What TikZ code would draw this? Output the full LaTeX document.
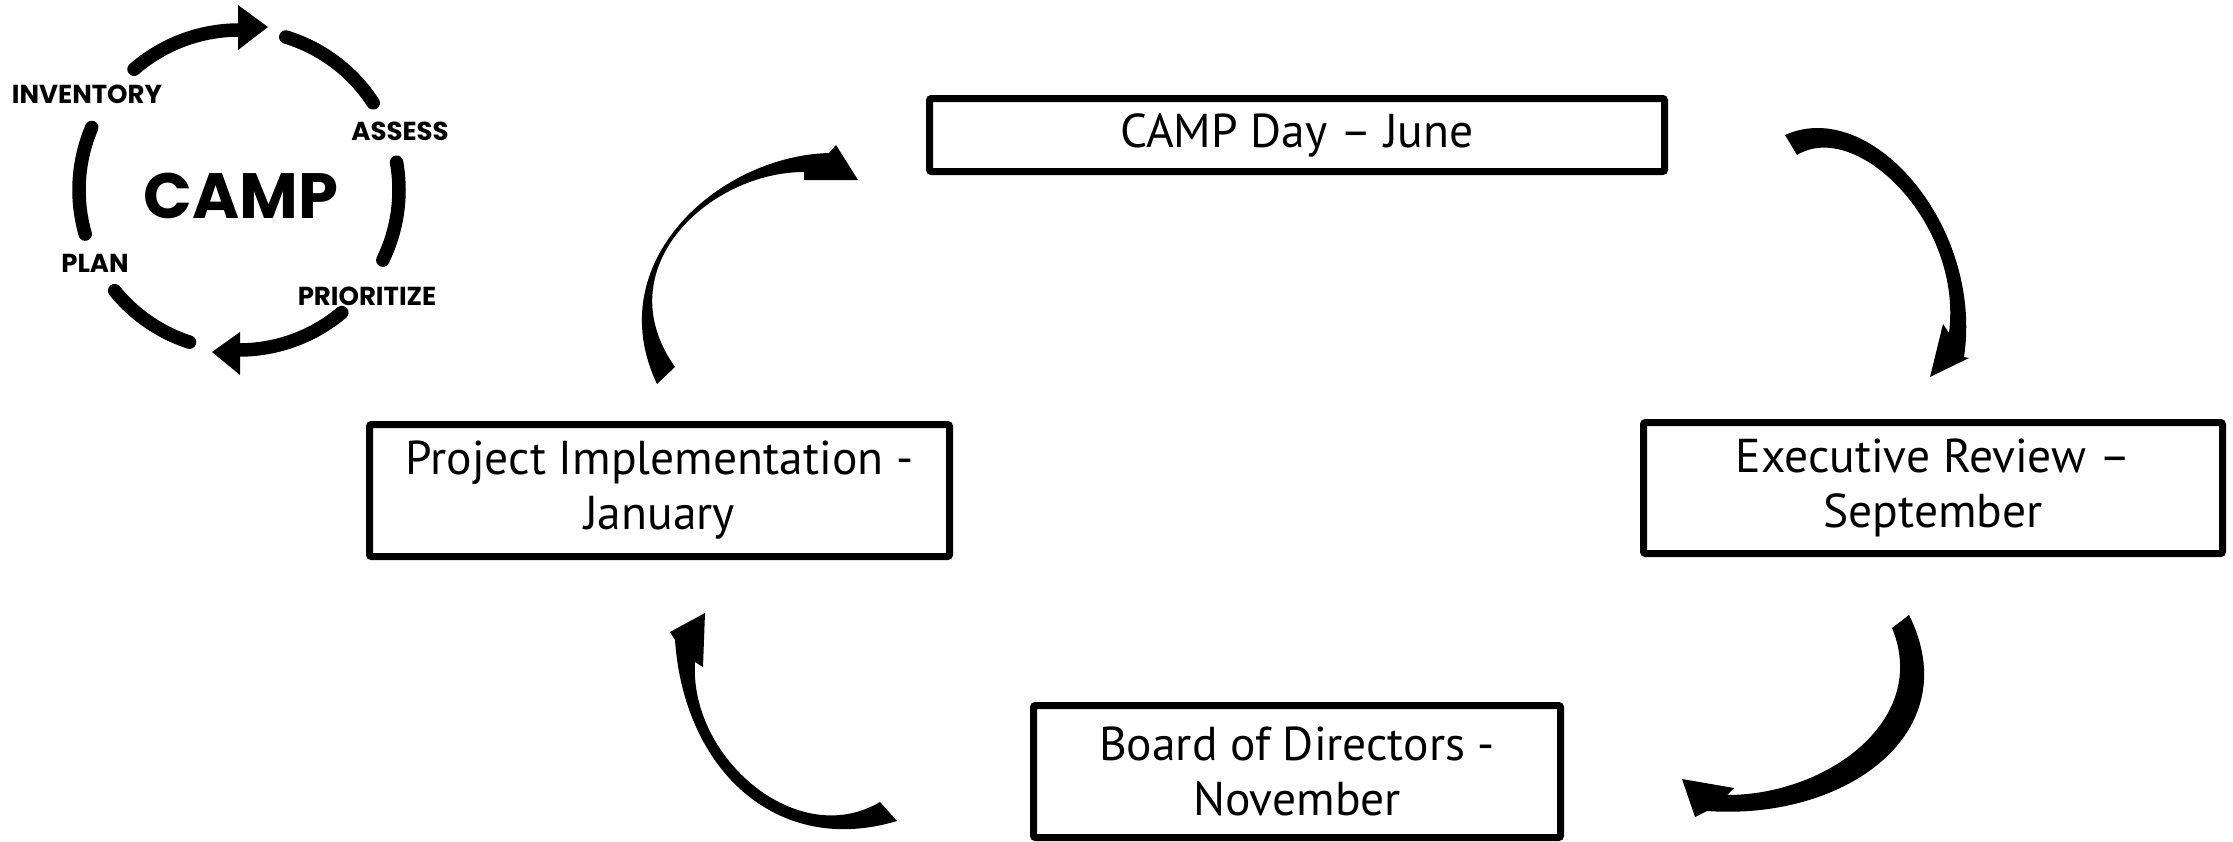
\documentclass[tikz,border=0pt]{standalone}
\usepackage{fontspec}
\setmainfont{PT Sans}
\newfontfamily\popfont{Poppins}
\begin{document}
\begin{tikzpicture}[x=1pt,y=-1pt,
  stage/.style={draw=black,line width=7pt,rounded corners=2pt,inner sep=0pt,align=center,
    font=\fontsize{47.5}{55}\selectfont},
  ring/.style={line width=13.5pt,line cap=round},
  logolabel/.style={font=\popfont\bfseries\fontsize{26}{30}\selectfont,anchor=base,inner sep=0pt},
  bigarrow/.style={fill=black}]
\useasboundingbox[fill=white] (0,0) rectangle (2233,841);

% stage boxes
\node[stage,minimum width=735pt,minimum height=73pt] (camp) at (1297,135) {CAMP Day -- June};
\node[stage,minimum width=580pt,minimum height=132pt] (proj) at (659.5,490.5) {Project Implementation -\\January};
\node[stage,minimum width=579pt,minimum height=131pt] (exec) at (1933,488) {Executive Review --\\September};
\node[stage,minimum width=527pt,minimum height=132pt] (board) at (1297,771.5) {Board of Directors -\\November};

% curved arrows
\fill[bigarrow] (657,384) .. controls (599,262) and (719,156) .. (829,153)
  -- (836,145) -- (858,180) -- (804,180) -- (804,172)
  .. controls (710,172) and (605,268) .. (675,367) -- cycle;

\fill[bigarrow] (1785,135) .. controls (1871.5,96) and (1983.5,227) .. (1964,357)
  -- (1969,358) -- (1930,377) -- (1943,324) -- (1949,333)
  .. controls (1963,223) and (1856.5,118.6) .. (1797,155) -- cycle;

\fill[bigarrow] (1909,615) .. controls (1967.5,732) and (1847,820.8) .. (1707,811)
  -- (1695,817) -- (1682,779) -- (1734,788) -- (1727,795)
  .. controls (1827,795) and (1930,720) .. (1892,628) -- cycle;

\fill[bigarrow] (897,821) .. controls (777,857) and (684,770) .. (675,640)
  -- (670,632) -- (705,613) -- (703,667) -- (695,662)
  .. controls (689,757) and (797,851) .. (880,802) -- cycle;

% CAMP logo ring
\draw[ring] plot[domain=131:90,samples=30] ({239+160*cos(\x)},{190-160*sin(\x)});
\draw[ring] plot[domain=73:33,samples=30] ({239+160*cos(\x)},{190-160*sin(\x)});
\draw[ring] plot[domain=10:-26,samples=30] ({239+160*cos(\x)},{190-160*sin(\x)});
\draw[ring] plot[domain=-50:-90,samples=30] ({239+160*cos(\x)},{190-160*sin(\x)});
\draw[ring] plot[domain=-108:-141,samples=30] ({239+160*cos(\x)},{190-160*sin(\x)});
\draw[ring] plot[domain=-164:-203,samples=30] ({239+160*cos(\x)},{190-160*sin(\x)});
\fill (238,5) -- (268,27) -- (238,50) -- cycle;
\fill (240,332) -- (212,352) -- (240,375) -- cycle;

% logo labels
\node[logolabel] (inv) at (87,103) {INVENTORY};
\node[logolabel] (ass) at (400,140) {ASSESS};
\node[logolabel] (pri) at (367,305) {PRIORITIZE};
\node[logolabel] (plan) at (95,272) {PLAN};
\node[logolabel,font=\popfont\bfseries\fontsize{64}{70}\selectfont] (logo) at (241,218) {CAMP};
\end{tikzpicture}
\end{document}
